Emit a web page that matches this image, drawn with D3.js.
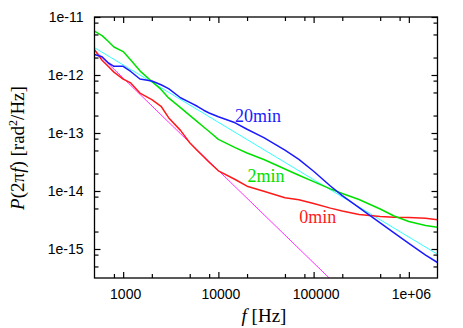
<!DOCTYPE html>
<html>
<head>
<meta charset="utf-8">
<script src="https://cdn.jsdelivr.net/npm/d3@7"></script>
<style>
  body { margin: 0; background: #fff; }
  svg { display: block; }
</style>
</head>
<body>
<svg id="chart" width="463" height="328"></svg>
<script>
// frequency grid [Hz]
const freqs = [500, 600, 700, 800, 1000, 1200, 1500, 2000, 2500, 3000, 4000, 5000, 6000, 7000, 8000,
  10000, 15000, 20000, 30000, 50000, 70000, 1e5, 1.5e5, 2e5, 3e5, 5e5, 7e5, 1e6, 1.5e6, 2e6];

// P(2 pi f) [rad^2/Hz]
const p0min = [2.73e-12, 1.80e-12, 1.40e-12, 1.12e-12, 8.49e-13, 7.31e-13, 4.88e-13, 3.77e-13, 2.89e-13, 1.84e-13,
  1.11e-13, 6.81e-14, 5.01e-14, 3.89e-14, 3.13e-14, 2.23e-14, 1.58e-14, 1.21e-14, 9.89e-15, 7.64e-15,
  7.08e-15, 6.07e-15, 5.07e-15, 4.52e-15, 3.95e-15, 3.63e-15, 3.51e-15, 3.49e-15, 3.40e-15, 3.20e-15];
const p2min = [5.69e-12, 4.78e-12, 3.77e-12, 3.04e-12, 2.53e-12, 1.81e-12, 1.18e-12, 7.73e-13, 5.65e-13, 4.03e-13,
  2.73e-13, 2.01e-13, 1.57e-13, 1.27e-13, 1.06e-13, 7.78e-14, 5.60e-14, 4.52e-14, 3.49e-14, 2.39e-14,
  1.87e-14, 1.45e-14, 1.09e-14, 9.06e-15, 7.13e-15, 4.90e-15, 3.71e-15, 2.98e-15, 2.54e-15, 2.38e-15];
const p20min = [2.26e-12, 2.07e-12, 1.61e-12, 1.41e-12, 1.41e-12, 1.15e-12, 8.53e-13, 7.88e-13, 6.78e-13, 5.83e-13,
  4.05e-13, 3.38e-13, 2.89e-13, 2.47e-13, 2.21e-13, 1.91e-13, 1.50e-13, 1.16e-13, 8.34e-14, 5.05e-14,
  3.51e-14, 2.19e-14, 1.22e-14, 8.34e-15, 5.15e-15, 2.83e-15, 1.90e-15, 1.25e-15, 7.85e-16, 5.85e-16];

// straight reference lines (end points)
const fitCyan = [[500, 2.96e-12], [2e6, 8.1e-16]];
const fitMagenta = [[500, 2.67e-12], [1.5e5, 3.02e-16]];

const xMajor = [1000, 10000, 100000, 1000000];
const xLabels = ['1000', '10000', '100000', '1e+06'];
const yMajor = [1e-11, 1e-12, 1e-13, 1e-14, 1e-15];
const yLabels = ['1e-11', '1e-12', '1e-13', '1e-14', '1e-15'];
const minorMult = [2, 5, 8];

const seriesLabels = [
  { text: '20min', color: '#1a1aff', f: 14900, p: 1.57e-13 },
  { text: '2min', color: '#00e000', f: 20200, p: 1.41e-14 },
  { text: '0min', color: '#ff1a1a', f: 70500, p: 2.77e-15 }
];

const svg = d3.select('#chart');
const margin = { top: 17, right: 25.5, bottom: 50, left: 94.5 };
const W = 463, H = 328;

const x = d3.scaleLog().domain([500, 2e6]).range([margin.left, W - margin.right]);
const y = d3.scaleLog().domain([Math.pow(10, -15.5), 1e-11]).range([H - margin.bottom, margin.top]);

// minor tick positions
const xMinor = [], yMinor = [];
for (let e = 2; e <= 6; e++) minorMult.forEach(m => {
  const v = m * Math.pow(10, e);
  if (v > 500 && v < 2e6) xMinor.push(v);
});
for (let e = -16; e <= -12; e++) minorMult.forEach(m => {
  const v = m * Math.pow(10, e);
  if (v > y.domain()[0] && v < 1e-11) yMinor.push(v);
});

svg.append('defs').append('clipPath').attr('id', 'clip')
  .append('rect')
  .attr('x', x.range()[0]).attr('y', y.range()[1])
  .attr('width', x.range()[1] - x.range()[0])
  .attr('height', y.range()[0] - y.range()[1]);

const plot = svg.append('g').attr('clip-path', 'url(#clip)');

const line = d3.line().x(d => x(d[0])).y(d => y(d[1]));

plot.append('path').datum(fitCyan).attr('d', line)
  .attr('fill', 'none').attr('stroke', '#33ffff').attr('stroke-width', 1);
plot.append('path').datum(fitMagenta).attr('d', line)
  .attr('fill', 'none').attr('stroke', '#ff33ff').attr('stroke-width', 1);

const series = [
  { vals: p0min, color: '#ff1a1a' },
  { vals: p2min, color: '#00e000' },
  { vals: p20min, color: '#1a1aff' }
];
series.forEach(s => {
  plot.append('path').datum(freqs.map((f, i) => [f, s.vals[i]])).attr('d', line)
    .attr('fill', 'none').attr('stroke', s.color).attr('stroke-width', 1.5)
    .attr('stroke-linejoin', 'round');
});

// axes, ticks on all four sides pointing inwards
const tickFont = '"Liberation Sans", Arial, Helvetica, sans-serif';
function styleAxis(g) {
  g.select('.domain').remove();
  g.selectAll('line').attr('stroke', '#000').attr('stroke-width', 1.2);
  g.selectAll('text').attr('font-family', tickFont).attr('font-size', 14).attr('fill', '#000');
}

const xb = H - margin.bottom, yt = margin.top, xl = margin.left, xr = W - margin.right;

svg.append('g').attr('transform', `translate(0,${xb})`)
  .call(d3.axisBottom(x).tickValues(xMajor).tickSize(-6).tickPadding(11)
    .tickFormat((d, i) => xLabels[i]))
  .call(styleAxis)
  .selectAll('text').attr('dx', 2);
svg.append('g').attr('transform', `translate(0,${xb})`)
  .call(d3.axisBottom(x).tickValues(xMinor).tickSize(-4).tickFormat(''))
  .call(styleAxis);
svg.append('g').attr('transform', `translate(0,${yt})`)
  .call(d3.axisTop(x).tickValues(xMajor).tickSize(-6).tickFormat(''))
  .call(styleAxis);
svg.append('g').attr('transform', `translate(0,${yt})`)
  .call(d3.axisTop(x).tickValues(xMinor).tickSize(-4).tickFormat(''))
  .call(styleAxis);

svg.append('g').attr('transform', `translate(${xl},0)`)
  .call(d3.axisLeft(y).tickValues(yMajor).tickSize(-6).tickPadding(11)
    .tickFormat((d, i) => yLabels[i]))
  .call(styleAxis);
svg.append('g').attr('transform', `translate(${xl},0)`)
  .call(d3.axisLeft(y).tickValues(yMinor).tickSize(-4).tickFormat(''))
  .call(styleAxis);
svg.append('g').attr('transform', `translate(${xr},0)`)
  .call(d3.axisRight(y).tickValues(yMajor).tickSize(-6).tickFormat(''))
  .call(styleAxis);
svg.append('g').attr('transform', `translate(${xr},0)`)
  .call(d3.axisRight(y).tickValues(yMinor).tickSize(-4).tickFormat(''))
  .call(styleAxis);

// frame
svg.append('rect')
  .attr('x', xl).attr('y', yt)
  .attr('width', xr - xl).attr('height', xb - yt)
  .attr('fill', 'none').attr('stroke', '#000').attr('stroke-width', 1.3);

// curve labels
const serif = '"Liberation Serif", "Times New Roman", Times, serif';
svg.selectAll('.slabel').data(seriesLabels).enter().append('text')
  .attr('class', 'slabel')
  .attr('x', d => x(d.f)).attr('y', d => y(d.p))
  .attr('font-family', serif).attr('font-size', 18)
  .attr('fill', d => d.color)
  .text(d => d.text);

// axis titles
const xt = svg.append('text')
  .attr('x', 264).attr('y', 322)
  .attr('text-anchor', 'middle')
  .attr('font-family', serif).attr('font-size', 19);
xt.append('tspan').attr('font-style', 'italic').text('f');
xt.append('tspan').text(' [Hz]');

const ytl = svg.append('text')
  .attr('transform', 'translate(24,148) rotate(-90)')
  .attr('text-anchor', 'middle')
  .attr('font-family', serif).attr('font-size', 19);
ytl.append('tspan').attr('font-style', 'italic').text('P');
ytl.append('tspan').text('(2π');
ytl.append('tspan').attr('font-style', 'italic').text('f');
ytl.append('tspan').text(') [rad');
ytl.append('tspan').attr('font-size', 12).attr('dy', -7).text('2');
ytl.append('tspan').attr('dy', 7).text('/Hz]');
</script>
</body>
</html>
